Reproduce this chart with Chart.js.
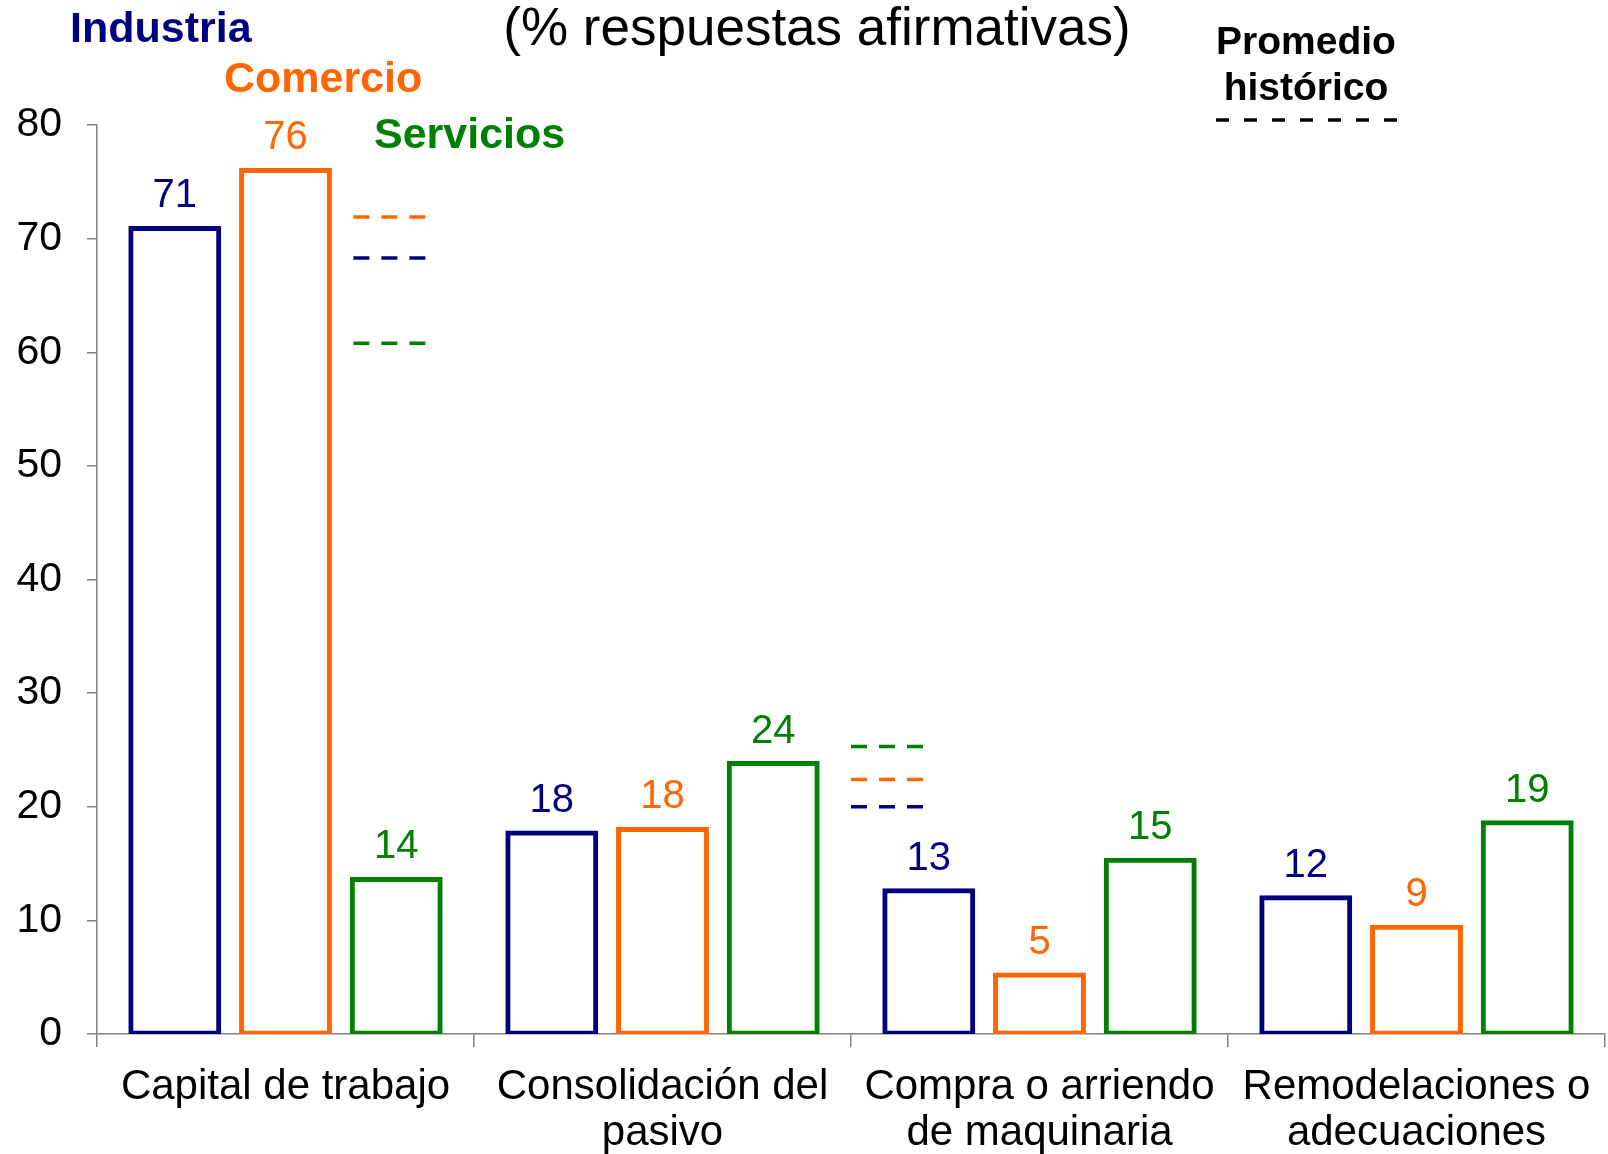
<!DOCTYPE html>
<html><head><meta charset="utf-8">
<script src="https://cdn.jsdelivr.net/npm/chart.js@4"></script>
<style>html,body{margin:0;padding:0;background:#fff}#wrap{width:1608px;height:1154px}</style>
</head><body><div id="wrap"><canvas id="c" width="1608" height="1154"></canvas></div>
<script>
// ---- data ----
const categories = [['Capital de trabajo'], ['Consolidación del', 'pasivo'], ['Compra o arriendo', 'de maquinaria'], ['Remodelaciones o', 'adecuaciones']];
const seriesNames = ['Industria', 'Comercio', 'Servicios'];
const industria = [70.9, 17.7, 12.6, 12.0];
const comercio  = [76.0, 18.0, 5.2, 9.4];
const servicios = [13.6, 23.8, 15.3, 18.6];
const avgIndustria = [68.3, 20.0, null, null];
const avgComercio  = [71.9, 22.4, null, null];
const avgServicios = [60.8, 25.3, null, null];
const yTicks = [0, 10, 20, 30, 40, 50, 60, 70, 80];
const titleText = '(% respuestas afirmativas)';
const avgLegendLines = ['Promedio', 'histórico'];

// ---- style ----
const colors = ['#000080', '#FF6600', '#008000'];
const FONT = '"Liberation Sans", Arial, sans-serif';
const dashSpan = [[0.18, 0.371], [0.50, 0.691], null, null]; // position of average marks, in category units

const barSeries = [industria, comercio, servicios];
const avgSeries = [avgIndustria, avgComercio, avgServicios];

const datasets = barSeries.map((vals, i) => ({
  type: 'bar', label: seriesNames[i], data: vals,
  backgroundColor: '#ffffff', borderColor: colors[i], borderWidth: 5, borderSkipped: false,
  inflateAmount: 2.5,
  categoryPercentage: 0.881, barPercentage: 0.794
}));

const avgPlugin = {
  id: 'avgMarks',
  afterDatasetsDraw(chart) {
    const ctx = chart.ctx, xs = chart.scales.x, ys = chart.scales.y;
    const catW = xs.width / categories.length;
    ctx.save();
    ctx.lineWidth = 3.5;
    ctx.setLineDash([16, 12]);
    avgSeries.forEach((avg, i) => {
      avg.forEach((v, c) => {
        if (v === null || !dashSpan[c]) return;
        const cx = xs.getPixelForValue(c);
        const y = ys.getPixelForValue(v);
        ctx.strokeStyle = colors[i];
        ctx.beginPath();
        ctx.moveTo(cx + dashSpan[c][0] * catW, y);
        ctx.lineTo(cx + dashSpan[c][1] * catW, y);
        ctx.stroke();
      });
    });
    ctx.restore();
  }
};

const labelsPlugin = {
  id: 'valueLabels',
  afterDatasetsDraw(chart) {
    const ctx = chart.ctx;
    ctx.save();
    ctx.font = '40px ' + FONT;
    ctx.textAlign = 'center';
    ctx.textBaseline = 'alphabetic';
    chart.data.datasets.forEach((ds, di) => {
      const meta = chart.getDatasetMeta(di);
      meta.data.forEach((el, k) => {
        ctx.fillStyle = ds.borderColor;
        ctx.fillText(String(Math.round(ds.data[k])), el.x, el.y - 21);
      });
    });
    ctx.restore();
  }
};

const overlayPlugin = {
  id: 'overlay',
  afterDraw(chart) {
    const ctx = chart.ctx;
    ctx.save();
    ctx.textBaseline = 'alphabetic';
    ctx.fillStyle = '#000';
    ctx.textAlign = 'center';
    ctx.font = '53px ' + FONT;
    ctx.fillText(titleText, 817, 45);
    ctx.textAlign = 'left';
    ctx.font = 'bold 43px ' + FONT;
    const pos = [[70, 42], [224, 92], [374, 148]];
    seriesNames.forEach((n, i) => { ctx.fillStyle = colors[i]; ctx.fillText(n, pos[i][0], pos[i][1]); });
    ctx.fillStyle = '#000';
    ctx.textAlign = 'center';
    ctx.font = 'bold 39px ' + FONT;
    ctx.fillText(avgLegendLines[0], 1306, 54);
    ctx.fillText(avgLegendLines[1], 1306, 100);
    ctx.strokeStyle = '#000';
    ctx.lineWidth = 3.5;
    ctx.setLineDash([13, 15]);
    ctx.beginPath(); ctx.moveTo(1216, 120); ctx.lineTo(1397, 120); ctx.stroke();
    ctx.restore();
  }
};

new Chart(document.getElementById('c'), {
  type: 'bar',
  data: { labels: categories, datasets },
  options: {
    responsive: false, animation: false,
    layout: { padding: { top: 125, right: 3, left: 0, bottom: 0 } },
    plugins: { legend: { display: false }, tooltip: { enabled: false }, title: { display: false } },
    scales: {
      x: {
        type: 'category', offset: true,
        grid: { display: true, drawOnChartArea: false, drawTicks: true, tickLength: 13, color: '#808080', lineWidth: 1.5, offset: true },
        border: { display: true, color: '#808080', width: 1.5 },
        ticks: { color: '#000', font: { family: FONT, size: 42, lineHeight: 1.1 }, padding: 17, autoSkip: false, maxRotation: 0 },
        afterFit(s) { s.height = 120; }
      },
      y: {
        type: 'linear', min: 0, max: 80,
        afterBuildTicks(s) { s.ticks = yTicks.map(v => ({ value: v })); },
        grid: { display: true, drawOnChartArea: false, drawTicks: true, tickLength: 10, color: '#808080', lineWidth: 1.5 },
        border: { display: true, color: '#808080', width: 1.5 },
        ticks: { color: '#000', font: { family: FONT, size: 41 }, padding: 25 },
        afterFit(s) { s.width = 97; }
      }
    }
  },
  plugins: [avgPlugin, labelsPlugin, overlayPlugin]
});
</script></body></html>
